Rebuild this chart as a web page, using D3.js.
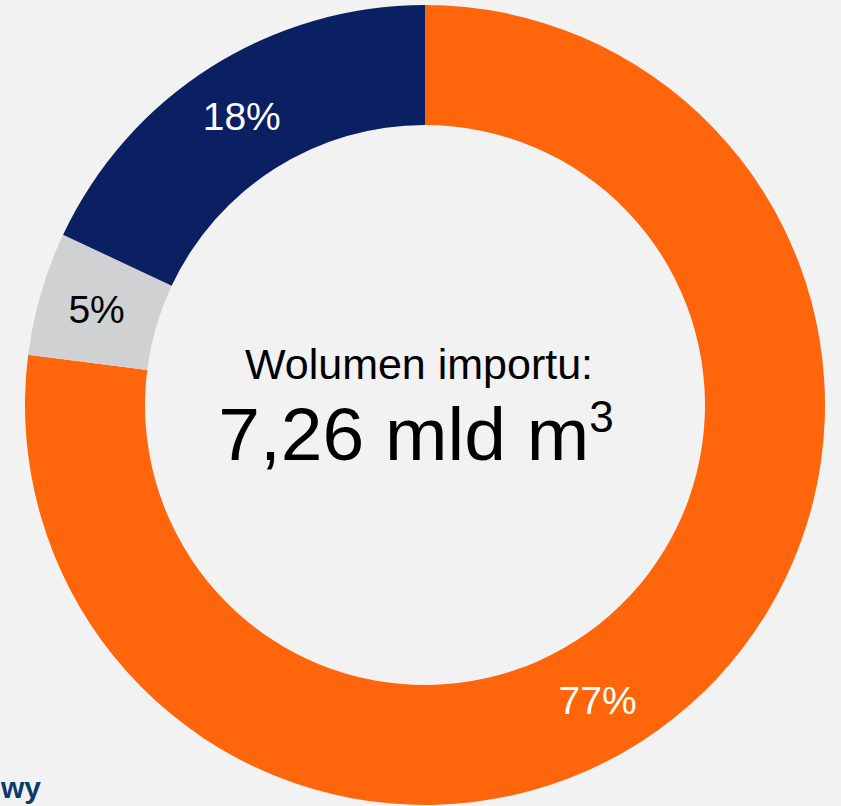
<!DOCTYPE html>
<html>
<head>
<meta charset="utf-8">
<script src="https://cdn.jsdelivr.net/npm/d3@7"></script>
<style>
  html, body { margin: 0; padding: 0; background: #f2f2f2; }
  svg { display: block; font-family: "Liberation Sans", Arial, sans-serif; }
</style>
</head>
<body>
<div id="chart-area"></div>
<script>
// share of import volume
const categories = ["A", "B", "C"]
const shares = [77, 5, 18]
const labels = ["77%", "5%", "18%"]
const totalLabel = "Wolumen importu:"
const totalValue = "7,26 mld m"
const totalUnitSup = "3"
const footText = "wy"

const WIDTH = 841
const HEIGHT = 806
const CX = 425, CY = 405
const R_OUT = 400, R_IN = 280

const colors = d3.scaleOrdinal()
                 .domain(categories)
                 .range(["#ff650a", "#d0d1d3", "#0b1f63"])
const labelColors = ["#ffffff", "#000000", "#ffffff"]
// where along each slice the label sits (0..1)
const labelAt = [0.54, 0.5, 0.5]

const svg = d3.select("#chart-area").append("svg")
            .attr("width", WIDTH)
            .attr("height", HEIGHT)

svg.append("rect")
   .attr("width", WIDTH).attr("height", HEIGHT)
   .attr("fill", "#f2f2f2")

const g = svg.append("g")
       .attr("transform", `translate(${CX}, ${CY})`)

const pie = d3.pie().sort(null).value(d => d)
const arcs = pie(shares)

const arc = d3.arc().innerRadius(R_IN).outerRadius(R_OUT)

g.selectAll(".slice")
  .data(arcs)
  .enter().append("path")
  .attr("class", "slice")
  .attr("fill", (d, i) => colors(categories[i]))
  .attr("d", arc)

const rLab = (R_IN + R_OUT) / 2 + 2
g.selectAll(".lab")
  .data(arcs)
  .enter().append("text")
  .attr("class", "lab")
  .attr("text-anchor", "middle")
  .attr("dominant-baseline", "central")
  .attr("font-size", 39)
  .attr("fill", (d, i) => labelColors[i])
  .attr("x", (d, i) => {
    const a = d.startAngle + (d.endAngle - d.startAngle) * labelAt[i]
    return rLab * Math.sin(a)
  })
  .attr("y", (d, i) => {
    const a = d.startAngle + (d.endAngle - d.startAngle) * labelAt[i]
    return -rLab * Math.cos(a)
  })
  .text((d, i) => labels[i])

// centre text
g.append("text")
  .attr("text-anchor", "middle")
  .attr("x", -6).attr("y", -26)
  .attr("font-size", 43)
  .attr("fill", "#000")
  .text(totalLabel)

const big = g.append("text")
  .attr("text-anchor", "middle")
  .attr("x", -9).attr("y", 55)
  .attr("font-size", 75)
  .attr("fill", "#000")
big.append("tspan").text(totalValue)
big.append("tspan")
   .attr("font-size", 44)
   .attr("dy", -28)
   .text(totalUnitSup)

svg.append("text")
   .attr("x", 1).attr("y", 798)
   .attr("font-size", 30)
   .attr("font-weight", "bold")
   .attr("fill", "#0b3a6e")
   .text(footText)
</script>
</body>
</html>
